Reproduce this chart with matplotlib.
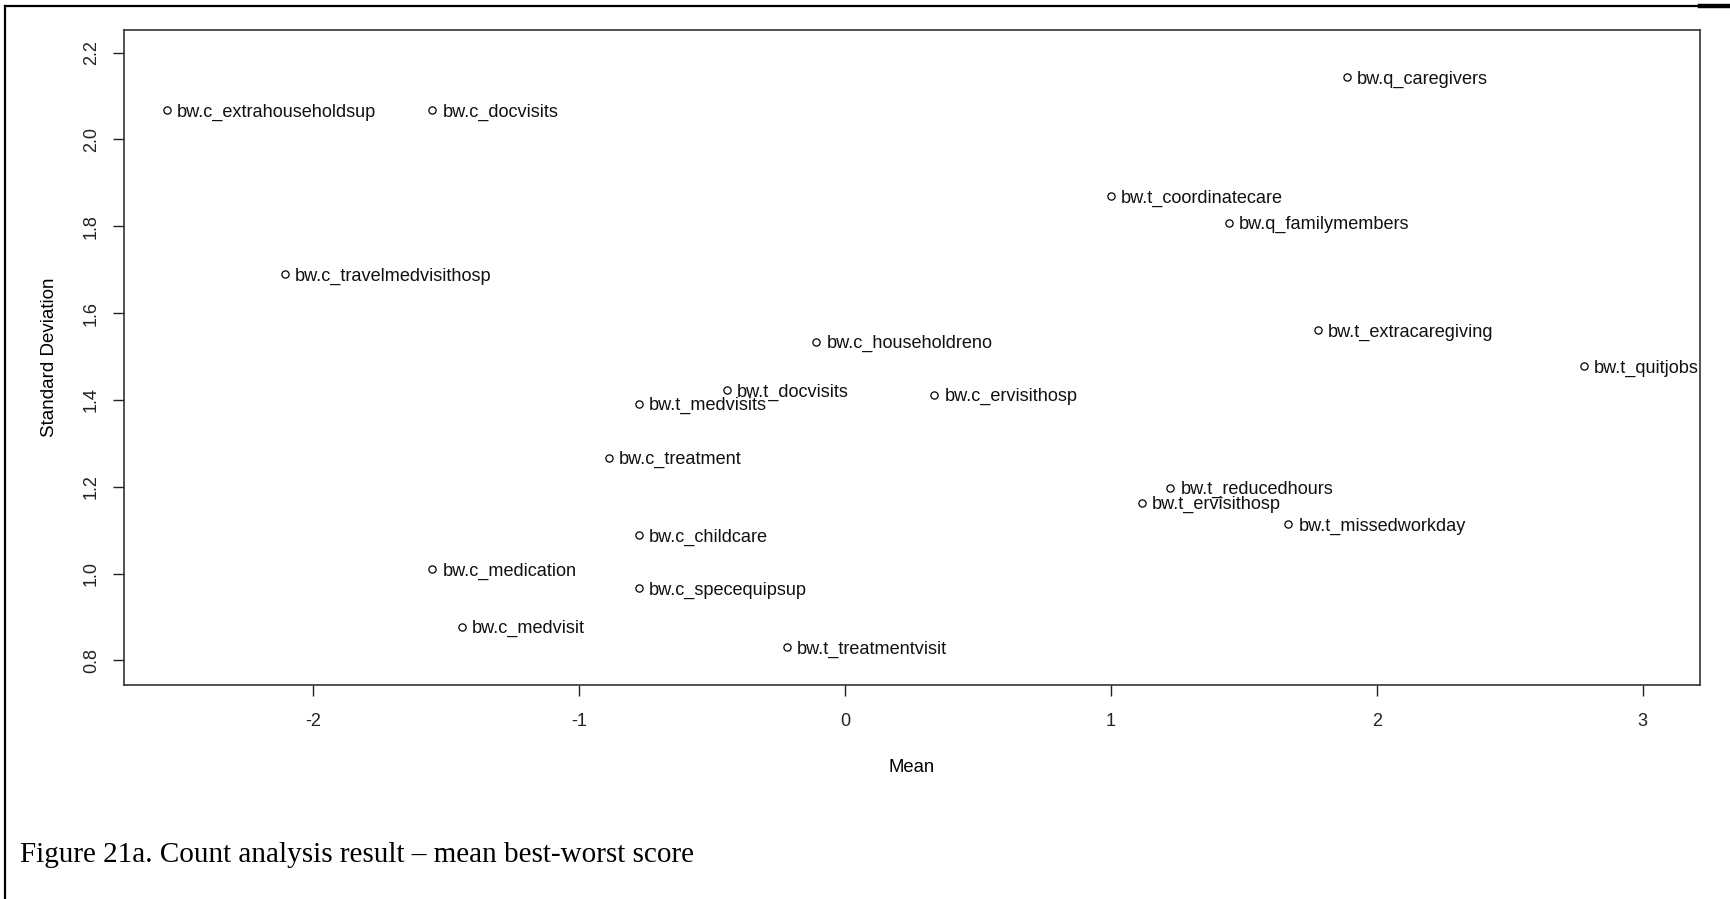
import matplotlib
matplotlib.use("Agg")
import matplotlib.pyplot as plt
from matplotlib.lines import Line2D

plt.rcParams["font.family"] = ["Liberation Sans", "DejaVu Sans"]

# Count analysis: mean and standard deviation of best-worst scores per attribute
attributes = [
    "bw.c_extrahouseholdsup", "bw.c_docvisits", "bw.q_caregivers",
    "bw.t_coordinatecare", "bw.q_familymembers", "bw.c_travelmedvisithosp",
    "bw.t_extracaregiving", "bw.c_householdreno", "bw.t_quitjobs",
    "bw.t_docvisits", "bw.c_ervisithosp", "bw.t_medvisits",
    "bw.c_treatment", "bw.t_reducedhours", "bw.t_ervisithosp",
    "bw.t_missedworkday", "bw.c_childcare", "bw.c_medication",
    "bw.c_specequipsup", "bw.c_medvisit", "bw.t_treatmentvisit",
]
mean_score = [
    -2.552, -1.552, 1.888,
    1.000, 1.444, -2.108,
    1.780, -0.108, 2.780,
    -0.444, 0.336, -0.776,
    -0.888, 1.224, 1.116,
    1.668, -0.776, -1.552,
    -0.776, -1.440, -0.220,
]
sd_score = [
    2.067, 2.067, 2.143,
    1.869, 1.808, 1.689,
    1.561, 1.534, 1.478,
    1.422, 1.412, 1.391,
    1.267, 1.198, 1.163,
    1.114, 1.089, 1.010,
    0.967, 0.878, 0.830,
]
x_ticks = [-2, -1, 0, 1, 2, 3]
y_ticks = [0.8, 1.0, 1.2, 1.4, 1.6, 1.8, 2.0, 2.2]
caption = "Figure 21a. Count analysis result \u2013 mean best-worst score"

W, H = 1730, 899
fig = plt.figure(figsize=(W / 100, H / 100), dpi=100)
fig.patch.set_facecolor("white")

# page border (left and top rules)
fig.add_artist(Line2D([5 / W, 5 / W], [0, 1 - 6 / H], transform=fig.transFigure,
                      color="black", lw=1.6))
fig.add_artist(Line2D([5 / W, 1], [1 - 6 / H, 1 - 6 / H], transform=fig.transFigure,
                      color="black", lw=1.6))
fig.add_artist(Line2D([1700 / W, 1], [1 - 6 / H, 1 - 6 / H], transform=fig.transFigure,
                      color="black", lw=3.2))

ax = fig.add_axes([123.6 / W, 1 - 685 / H, (1700 - 123.6) / W, (685 - 29.8) / H])
ax.plot(mean_score, sd_score, linestyle="none", marker="o", markersize=5.2,
        markerfacecolor="white", markeredgecolor="black", markeredgewidth=0.9)

for name, mx, sy in zip(attributes, mean_score, sd_score):
    ax.annotate(name, (mx, sy), xytext=(10, -2), textcoords="offset pixels",
                ha="left", va="center", fontsize=13.1, color="#111111")

ax.set_xlim(-2.714, 3.216)
ax.set_ylim(0.7434, 2.2525)
ax.set_xticks(x_ticks)
ax.set_xticklabels([f"{v:g}" for v in x_ticks])
ax.set_yticks(y_ticks)
ax.set_yticklabels([f"{v:.1f}" for v in y_ticks], rotation=90, va="center")
ax.tick_params(direction="out", length=8, width=1.0, labelsize=13, pad=9,
               colors="#222222")
ax.tick_params(axis="x", pad=12)
for sp in ax.spines.values():
    sp.set_linewidth(1.2)
    sp.set_color("#333333")

ax.set_xlabel("Mean", fontsize=13.3, labelpad=21)
ax.set_ylabel("Standard Deviation", fontsize=13.5, labelpad=18)

fig.text(20 / W, 1 - 862 / H, caption, family=["Liberation Serif", "DejaVu Serif"],
         fontsize=21, ha="left", va="baseline")

fig.savefig("out.png", dpi=100)
